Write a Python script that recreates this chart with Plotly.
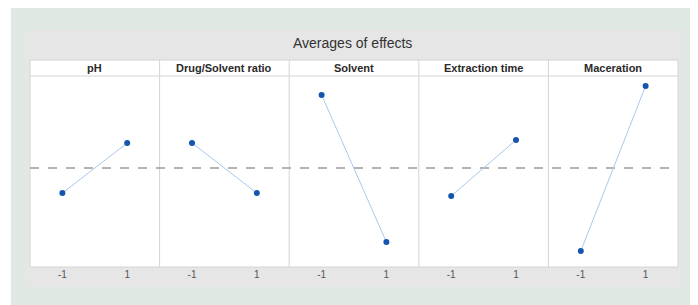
import plotly.graph_objects as go
from plotly.subplots import make_subplots

factors = ["pH", "Drug/Solvent ratio", "Solvent", "Extraction time", "Maceration"]
levels = [-1, 1]
effect_low = [-2.5, 2.5, 7.3, -2.8, -8.3]
effect_high = [2.5, -2.5, -7.4, 2.8, 8.2]
grand_mean = 0.0
tick_labels = ["-1", "1"]

OFF = 8  # page body margin
W, H = 698 - OFF, 305 - OFF
L, R, T, B = 30 - OFF, 20, 76 - OFF, 38
pw, ph = W - L - R, H - T - B

def px_x(x):
    return (x - OFF - L) / pw

def px_y(y):
    return (H - B - (y - OFF)) / ph

n = len(factors)
fig = make_subplots(rows=1, cols=n, shared_yaxes=True, horizontal_spacing=0)

for i in range(n):
    fig.add_trace(go.Scatter(
        x=levels, y=[effect_low[i], effect_high[i]], mode="lines+markers",
        line=dict(color="#a9c9ea", width=1),
        marker=dict(color="#1456ad", size=6),
        showlegend=False, hoverinfo="x+y"), row=1, col=i + 1)
    fig.update_xaxes(range=[-2, 2], tickvals=levels, ticktext=tick_labels,
                     showgrid=False, zeroline=False, showline=False,
                     ticks="", tickfont=dict(size=10, color="#555555"),
                     row=1, col=i + 1)

fig.update_yaxes(range=[-9.9, 9.2], showgrid=False, zeroline=False,
                 showticklabels=False, showline=False, ticks="")

shapes = []
shapes.append(dict(type="rect", xref="paper", yref="paper",
                   x0=px_x(11), x1=px_x(720), y0=px_y(8), y1=px_y(330),
                   fillcolor="#dfe8e2", line=dict(width=0), layer="below"))
shapes.append(dict(type="rect", xref="paper", yref="paper",
                   x0=px_x(25), x1=px_x(685), y0=px_y(30), y1=px_y(287),
                   fillcolor="#e6e6e6", line=dict(width=0), layer="below"))
shapes.append(dict(type="rect", xref="paper", yref="paper",
                   x0=0, x1=1, y0=0, y1=px_y(60),
                   fillcolor="white", line=dict(color="#d4d4d4", width=1), layer="below"))
shapes.append(dict(type="line", xref="paper", yref="paper",
                   x0=0, x1=1, y0=1, y1=1, line=dict(color="#d4d4d4", width=1), layer="below"))
for k in range(1, n):
    shapes.append(dict(type="line", xref="paper", yref="paper",
                       x0=k / n, x1=k / n, y0=0, y1=px_y(60),
                       line=dict(color="#d4d4d4", width=1), layer="below"))
shapes.append(dict(type="line", xref="paper", yref="y",
                   x0=0, x1=1, y0=grand_mean, y1=grand_mean,
                   line=dict(color="#9a9a9a", width=1.5, dash="dash"), layer="below"))

annotations = []
for i, f in enumerate(factors):
    annotations.append(dict(text="<b>" + f + "</b>", xref="paper", yref="paper",
                            x=(i + 0.5) / n, y=px_y(68), showarrow=False,
                            font=dict(size=11, color="#2a2a2a"),
                            xanchor="center", yanchor="middle"))
annotations.append(dict(text="Averages of effects", xref="paper", yref="paper",
                        x=px_x(352), y=px_y(43), showarrow=False,
                        font=dict(size=14, color="#333333"),
                        xanchor="center", yanchor="middle"))

fig.update_layout(width=W, height=H, margin=dict(l=L, r=R, t=T, b=B),
                  paper_bgcolor="white", plot_bgcolor="white",
                  font=dict(family="Liberation Sans, Arial, sans-serif"),
                  shapes=shapes, annotations=annotations)

fig.write_html("out.html")
